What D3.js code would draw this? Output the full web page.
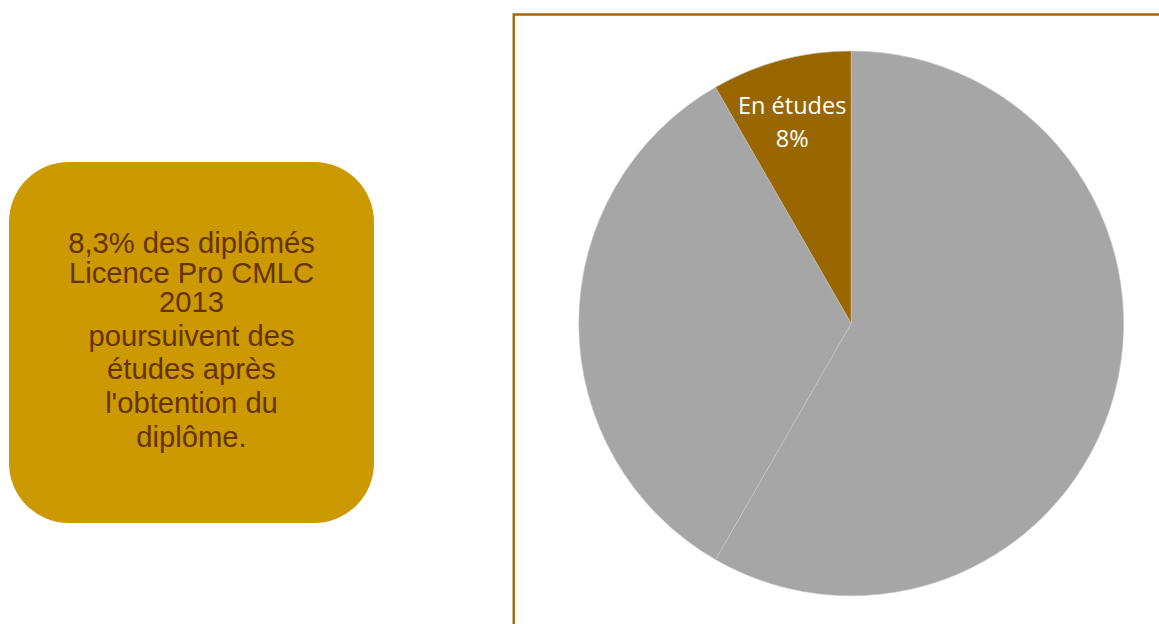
<!DOCTYPE html>
<html>
<head>
<meta charset="utf-8">
<script src="https://cdn.jsdelivr.net/npm/d3@7/dist/d3.min.js"></script>
<style>
  html, body { margin: 0; padding: 0; background: #ffffff; }
  svg { display: block; }
</style>
</head>
<body>
<div id="chart"></div>
<script>
// ---- data ----
const categories = ["En emploi", "En recherche d'emploi", "En études"];
const values = [58.3, 33.4, 8.3];
const sliceColors = ["#A6A6A6", "#A6A6A6", "#996600"];
const labelled = [false, false, true];
const noteParagraph1 = ["8,3% des diplômés", "Licence Pro CMLC", "2013"];
const noteParagraph2 = ["poursuivent des", "études après", "l'obtention du", "diplôme."];

// ---- layout ----
const W = 1159, H = 624;
const svg = d3.select("#chart").append("svg").attr("width", W).attr("height", H);

// frame of chart area
svg.append("path")
  .attr("d", `M513.75,${H + 5} L513.75,14.5 L${W + 5},14.5`)
  .attr("fill", "none")
  .attr("stroke", "#9E680B")
  .attr("stroke-width", 2.4);

// note box
const box = { x: 9, y: 162, w: 365, h: 361, r: 60 };
svg.append("rect")
  .attr("x", box.x).attr("y", box.y)
  .attr("width", box.w).attr("height", box.h)
  .attr("rx", box.r).attr("ry", box.r)
  .attr("fill", "#CC9900");

const cx = box.x + box.w / 2;
const noteFont = "'Liberation Sans', Arial, sans-serif";
const p1 = svg.append("g");
p1.selectAll("text").data(noteParagraph1).join("text")
  .attr("x", cx)
  .attr("y", (d, i) => 253.3 + i * 29.5)
  .attr("text-anchor", "middle")
  .attr("font-family", noteFont)
  .attr("font-size", 29.2)
  .attr("fill", "#663300")
  .text(d => d);
const p2 = svg.append("g");
p2.selectAll("text").data(noteParagraph2).join("text")
  .attr("x", cx)
  .attr("y", (d, i) => 345.5 + i * 33.8)
  .attr("text-anchor", "middle")
  .attr("font-family", noteFont)
  .attr("font-size", 29.2)
  .attr("fill", "#663300")
  .text(d => d);

// pie
const pcx = 851.2, pcy = 323.4, R = 272.4;
const pie = d3.pie().sort(null).value(d => d.value);
const data = categories.map((c, i) => ({ cat: c, value: values[i], color: sliceColors[i], lab: labelled[i] }));
const arcs = pie(data);
const arc = d3.arc().innerRadius(0).outerRadius(R);
const g = svg.append("g").attr("transform", `translate(${pcx},${pcy})`);
g.selectAll("path").data(arcs).join("path")
  .attr("d", arc)
  .attr("fill", d => d.data.color)
  .attr("stroke", "#c8c8c8")
  .attr("stroke-width", 0.6);

// labels
const labelArc = d3.arc().innerRadius(R * 0.84).outerRadius(R * 0.84);
const lg = g.selectAll("g.lab").data(arcs.filter(d => d.data.lab)).join("g")
  .attr("class", "lab")
  .attr("transform", d => {
    const [x, y] = labelArc.centroid(d);
    return `translate(${x},${y})`;
  });
lg.append("text")
  .attr("text-anchor", "middle")
  .attr("y", 11.5)
  .attr("font-family", "'Open Sans', sans-serif")
  .attr("font-size", 23.5)
  .attr("fill", "#ffffff")
  .text(d => d.data.cat);
lg.append("text")
  .attr("text-anchor", "middle")
  .attr("y", 44.7)
  .attr("font-family", "'Open Sans', sans-serif")
  .attr("font-size", 23.5)
  .attr("fill", "#ffffff")
  .text(d => d3.format(".0f")(d.data.value) + "%");
</script>
</body>
</html>
